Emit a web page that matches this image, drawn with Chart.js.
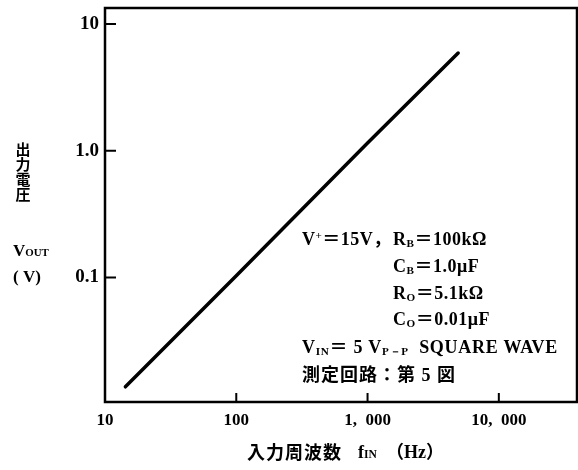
<!DOCTYPE html>
<html>
<head>
<meta charset="utf-8">
<script src="https://cdn.jsdelivr.net/npm/chart.js@4"></script>
<style>
  body { margin: 0; background: #fff; }
</style>
</head>
<body>
<canvas id="myChart" width="578" height="470"></canvas>
<script>
// data
const freq = [14.3, 100, 1000, 4900]
const vout = [0.0137, 0.103, 1.15, 5.9]

const xTickValues = [10, 100, 1000, 10000]
const xTickLabels = ['10', '100', '1,\u2002000', '10,\u2002000']
const yTickValues = [0.1, 1, 10]
const yTickLabels = ['0.1', '1.0', '10']

const serif = "'Liberation Serif', 'DejaVu Serif', serif"
const cjk = "'Noto Sans CJK JP', sans-serif"

// draws a line of text with sub / small-cap parts, left aligned
const drawRich = (ctx, parts, x, y, size, spacing) => {
    ctx.textBaseline = 'alphabetic'
    ctx.textAlign = 'left'
    ctx.letterSpacing = (spacing || 0) + 'px'
    parts.forEach((p) => {
        let fnt = size, dy = 0
        if (p.sub) { fnt = size * 0.62; dy = size * 0.12 }
        if (p.small) { fnt = size * 0.64 }
        if (p.sup) { fnt = size * 0.62; dy = -size * 0.32 }
        ctx.font = `bold ${fnt}px ${p.jp ? cjk : serif}`
        if (p.x !== undefined) x = p.x
        ctx.fillText(p.t, x, y + dy)
        x += ctx.measureText(p.t).width
    })
    ctx.letterSpacing = '0px'
}

const decor = {
    id: 'decor',
    afterDatasetsDraw(chart) {
        const ctx = chart.ctx
        const a = chart.chartArea
        const xs = chart.scales.x
        const ys = chart.scales.y
        ctx.save()
        ctx.strokeStyle = '#000'
        ctx.fillStyle = '#000'

        // frame
        ctx.lineWidth = 2.5
        ctx.strokeRect(a.left, a.top, a.right - a.left, a.bottom - a.top)

        // inward tick marks
        ctx.lineWidth = 2
        ctx.beginPath()
        xTickValues.slice(1).forEach((v) => {
            const px = xs.getPixelForValue(v)
            ctx.moveTo(px, a.bottom)
            ctx.lineTo(px, a.bottom - 9)
        })
        yTickValues.forEach((v) => {
            const py = ys.getPixelForValue(v)
            ctx.moveTo(a.left, py)
            ctx.lineTo(a.left + 11, py)
        })
        ctx.stroke()

        // conditions text (baselines)
        const s = 18
        drawRich(ctx, [{t: 'V'}, {t: '+', sup: true}, {t: '＝', jp: true}, {t: '15V'}, {t: '，', jp: true}], 302, 245, s, 0.5)
        drawRich(ctx, [{t: 'R'}, {t: 'B', sub: true}, {t: '＝', jp: true}, {t: '100kΩ'}], 393, 245, s, 0.5)
        drawRich(ctx, [{t: 'C'}, {t: 'B', sub: true}, {t: '＝', jp: true}, {t: '1.0μF'}], 393, 272, s, 0.5)
        drawRich(ctx, [{t: 'R'}, {t: 'O', sub: true}, {t: '＝', jp: true}, {t: '5.1kΩ'}], 393, 299, s, 0.5)
        drawRich(ctx, [{t: 'C'}, {t: 'O', sub: true}, {t: '＝', jp: true}, {t: '0.01μF'}], 393, 325, s, 0.5)
        drawRich(ctx, [{t: 'V'}, {t: 'IN', sub: true}, {t: '＝', jp: true}, {t: ' 5 V'}, {t: 'P－P', sub: true}, {t: '  SQUARE WAVE'}], 302, 353, s, 0.7)
        drawRich(ctx, [{t: '測定回路：第', jp: true}, {t: ' 5 '}, {t: '図', jp: true}], 302, 381, 18, 1)

        // y axis title, stacked
        ctx.textAlign = 'center'
        ctx.textBaseline = 'middle'
        ctx.font = `bold 15px ${cjk}`
        ;['出', '力', '電', '圧'].forEach((c, i) => ctx.fillText(c, 23, 149 + i * 15))
        drawRich(ctx, [{t: 'V'}, {t: 'OUT', small: true}], 13, 256, 17)
        drawRich(ctx, [{t: '( V)'}], 13, 282, 17)

        // x axis title
        drawRich(ctx, [{t: '入力周波数', jp: true}], 247, 459, 18, 1)
        drawRich(ctx, [{t: 'f', x: 358}, {t: 'IN', small: true}, {t: '（', jp: true, x: 386}, {t: 'Hz'}, {t: '）', jp: true}], 0, 458, 18)
        ctx.restore()
    }
}

const ctx = document.getElementById('myChart')

new Chart(ctx, {
    type: 'line',
    data: {
        datasets: [{
            data: freq.map((f, i) => ({x: f, y: vout[i]})),
            borderColor: '#000',
            borderWidth: 3.5,
            borderCapStyle: 'round',
            pointRadius: 0,
            tension: 0
        }]
    },
    options: {
        responsive: false,
        animation: false,
        layout: { padding: { top: 8, right: 1, left: 0, bottom: 0 } },
        plugins: { legend: { display: false }, tooltip: { enabled: false } },
        scales: {
            x: {
                type: 'logarithmic',
                min: 10,
                max: 39400,
                grid: { display: false, drawTicks: false },
                border: { display: false },
                afterBuildTicks: (scale) => { scale.ticks = xTickValues.map((v) => ({value: v})) },
                afterFit: (scale) => {
                    scale.height = 68
                    scale.paddingLeft = 0
                    scale.paddingRight = 0
                },
                ticks: {
                    autoSkip: false,
                    maxRotation: 0,
                    padding: 8,
                    color: '#000',
                    font: { family: serif, size: 17, weight: 'bold' },
                    callback: (v) => xTickLabels[xTickValues.indexOf(v)] ?? ''
                }
            },
            y: {
                type: 'logarithmic',
                min: 0.0104,
                max: 13.37,
                grid: { display: false, drawTicks: false },
                border: { display: false },
                afterBuildTicks: (scale) => { scale.ticks = yTickValues.map((v) => ({value: v})) },
                afterFit: (scale) => {
                    scale.width = 105
                    scale.paddingTop = 0
                    scale.paddingBottom = 0
                },
                ticks: {
                    autoSkip: false,
                    padding: 6,
                    color: '#000',
                    font: { family: serif, size: 19, weight: 'bold' },
                    callback: (v) => yTickLabels[yTickValues.indexOf(v)] ?? ''
                }
            }
        }
    },
    plugins: [decor]
})
</script>
</body>
</html>
